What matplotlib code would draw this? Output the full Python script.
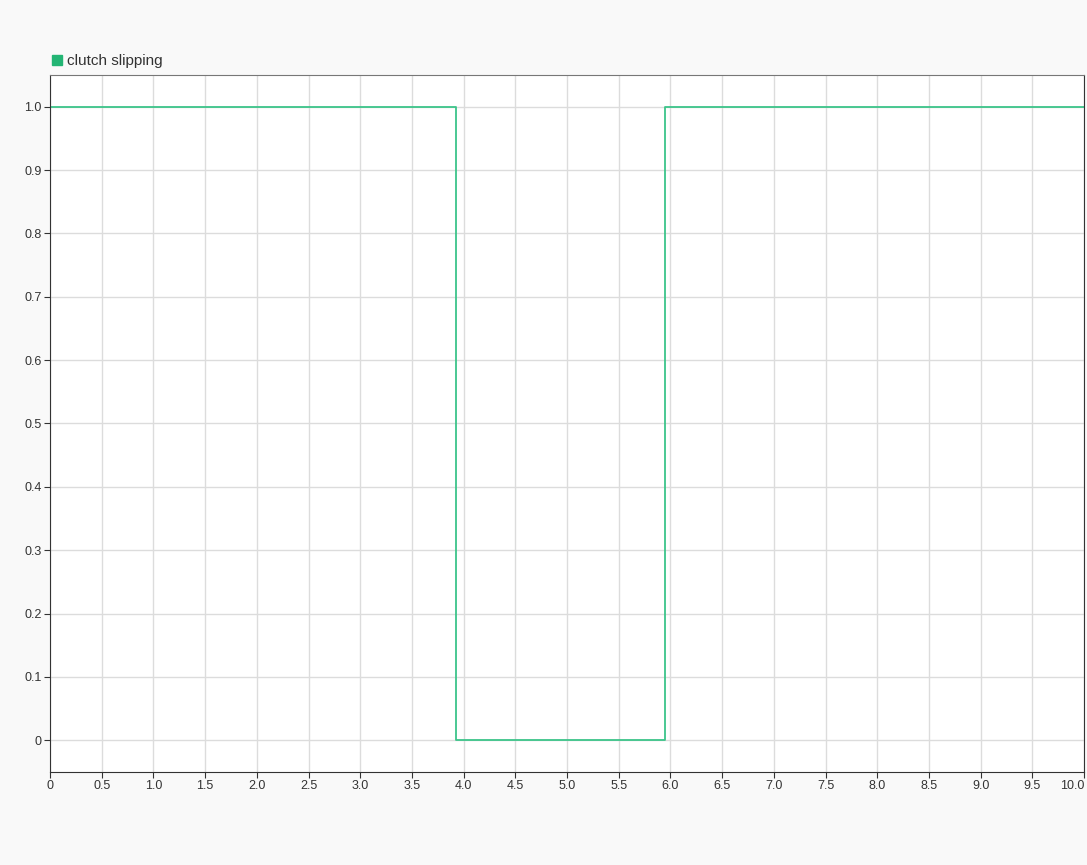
import matplotlib
matplotlib.use("Agg")
import matplotlib.pyplot as plt

# clutch slipping signal (step changes)
time_s = [0, 3.93, 5.95, 10.0]
slipping = [1, 0, 1, 1]

x_ticks = [i * 0.5 for i in range(21)]
x_labels = ["0"] + ["%.1f" % v for v in x_ticks[1:]]
y_ticks = [i * 0.1 for i in range(11)]
y_labels = ["0"] + ["%.1f" % v for v in y_ticks[1:]]

plt.rcParams['font.family'] = ['Liberation Sans', 'DejaVu Sans']

fig = plt.figure(figsize=(10.87, 8.65), dpi=100, facecolor="#f9f9f9")
ax = fig.add_axes([50 / 1087, 1 - 772 / 865, 1034 / 1087, 697 / 865])
ax.set_facecolor("white")

ax.plot(time_s, slipping, drawstyle="steps-post", color="#3cc48a", lw=1.3)

ax.set_xlim(0, 10)
ax.set_ylim(-0.05, 1.05)
ax.set_xticks(x_ticks)
ax.set_xticklabels(x_labels)
ax.set_yticks(y_ticks)
ax.set_yticklabels(y_labels)
ax.grid(True, color="#dcdcdc", lw=1)
ax.set_axisbelow(True)
ax.tick_params(labelsize=9, length=4, color="#333333", labelcolor="#333333", pad=2)
# keep the last x label inside the figure
ax.get_xticklabels()[-1].set_horizontalalignment("right")

for side in ["left", "bottom", "right"]:
    ax.spines[side].set_color("#333333")
ax.spines["top"].set_color("#777777")

fig.patches.append(plt.Rectangle((52 / 1087, 1 - 65 / 865), 10 / 1087, 10 / 865,
                                 transform=fig.transFigure, color="#23b574"))
fig.text(67 / 1087, 1 - 61 / 865, "clutch slipping", fontsize=11, color="#333333", va="center")

fig.savefig("out.png", dpi=100, facecolor=fig.get_facecolor())
